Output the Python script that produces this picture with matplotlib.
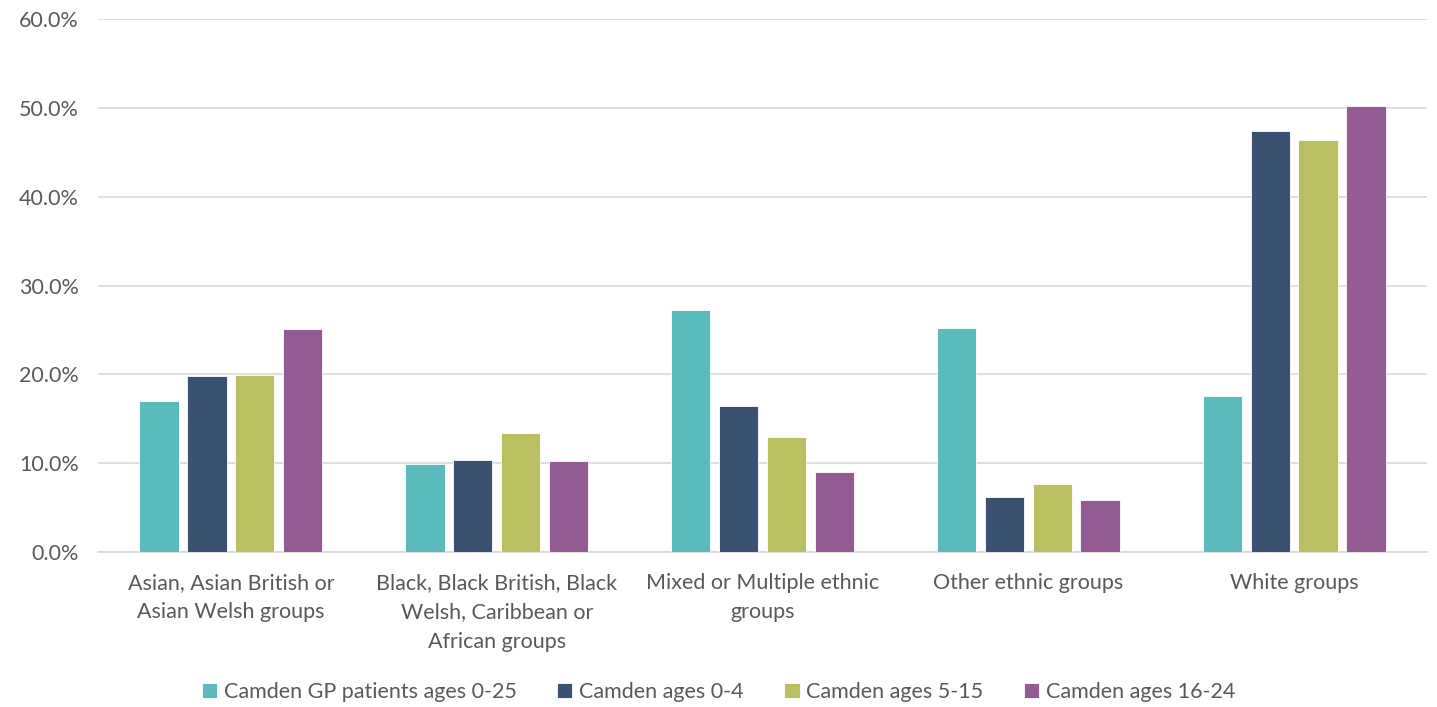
import numpy as np
import matplotlib.pyplot as plt
from matplotlib.ticker import PercentFormatter

# Data (percent)
categories = ["Asian, Asian British or\nAsian Welsh groups",
              "Black, Black British, Black\nWelsh, Caribbean or\nAfrican groups",
              "Mixed or Multiple ethnic\ngroups",
              "Other ethnic groups",
              "White groups"]
series_names = ["Camden GP patients ages 0-25", "Camden ages 0-4",
                "Camden ages 5-15", "Camden ages 16-24"]
gp_0_25 = [17.0, 9.9, 27.2, 25.2, 17.6]
ages_0_4 = [19.8, 10.4, 16.4, 6.2, 47.4]
ages_5_15 = [19.9, 13.4, 12.9, 7.7, 46.4]
ages_16_24 = [25.1, 10.2, 9.0, 5.9, 50.2]
colors = ["#5BBABD", "#3B5172", "#BABF62", "#935A93"]

plt.rcParams['font.family'] = ['Lato', 'DejaVu Sans']
text_col = "#595959"

fig = plt.figure(figsize=(14.37, 7.07), dpi=100)
ax = fig.add_axes([98 / 1437, 1 - 552 / 707, 1329 / 1437, 533 / 707])

x = np.arange(len(categories))
step = 0.18
width = 0.148
for i, (vals, name, c) in enumerate(zip([gp_0_25, ages_0_4, ages_5_15, ages_16_24],
                                        series_names, colors)):
    ax.bar(x + (i - 1.5) * step, vals, width, color=c, label=name,
           edgecolor="white", linewidth=0.6, zorder=3)

ax.set_xlim(-0.5, len(categories) - 0.5)
ax.set_ylim(0, 60)
ax.set_yticks(np.arange(0, 61, 10))
ax.yaxis.set_major_formatter(PercentFormatter(decimals=1))
ax.grid(axis="y", color="#D9D9D9", linewidth=1.2, zorder=0)
ax.set_xticks(x)
ax.set_xticklabels(categories, fontsize=15.5, color=text_col, linespacing=1.6)
ax.tick_params(axis="x", length=0, pad=15)
ax.tick_params(axis="y", length=0, labelsize=15.5, labelcolor=text_col, pad=14)
for s in ["top", "right", "left"]:
    ax.spines[s].set_visible(False)
ax.spines["bottom"].set_color("#D9D9D9")
ax.spines["bottom"].set_linewidth(1.2)

leg = fig.legend(loc="center", bbox_to_anchor=(0.5, 1 - 692 / 707), ncol=4,
                 frameon=False, fontsize=15.5, handlelength=0.7, handleheight=0.7,
                 handletextpad=0.3, columnspacing=1.9)
for t in leg.get_texts():
    t.set_color(text_col)

fig.savefig("out.png", dpi=100)
